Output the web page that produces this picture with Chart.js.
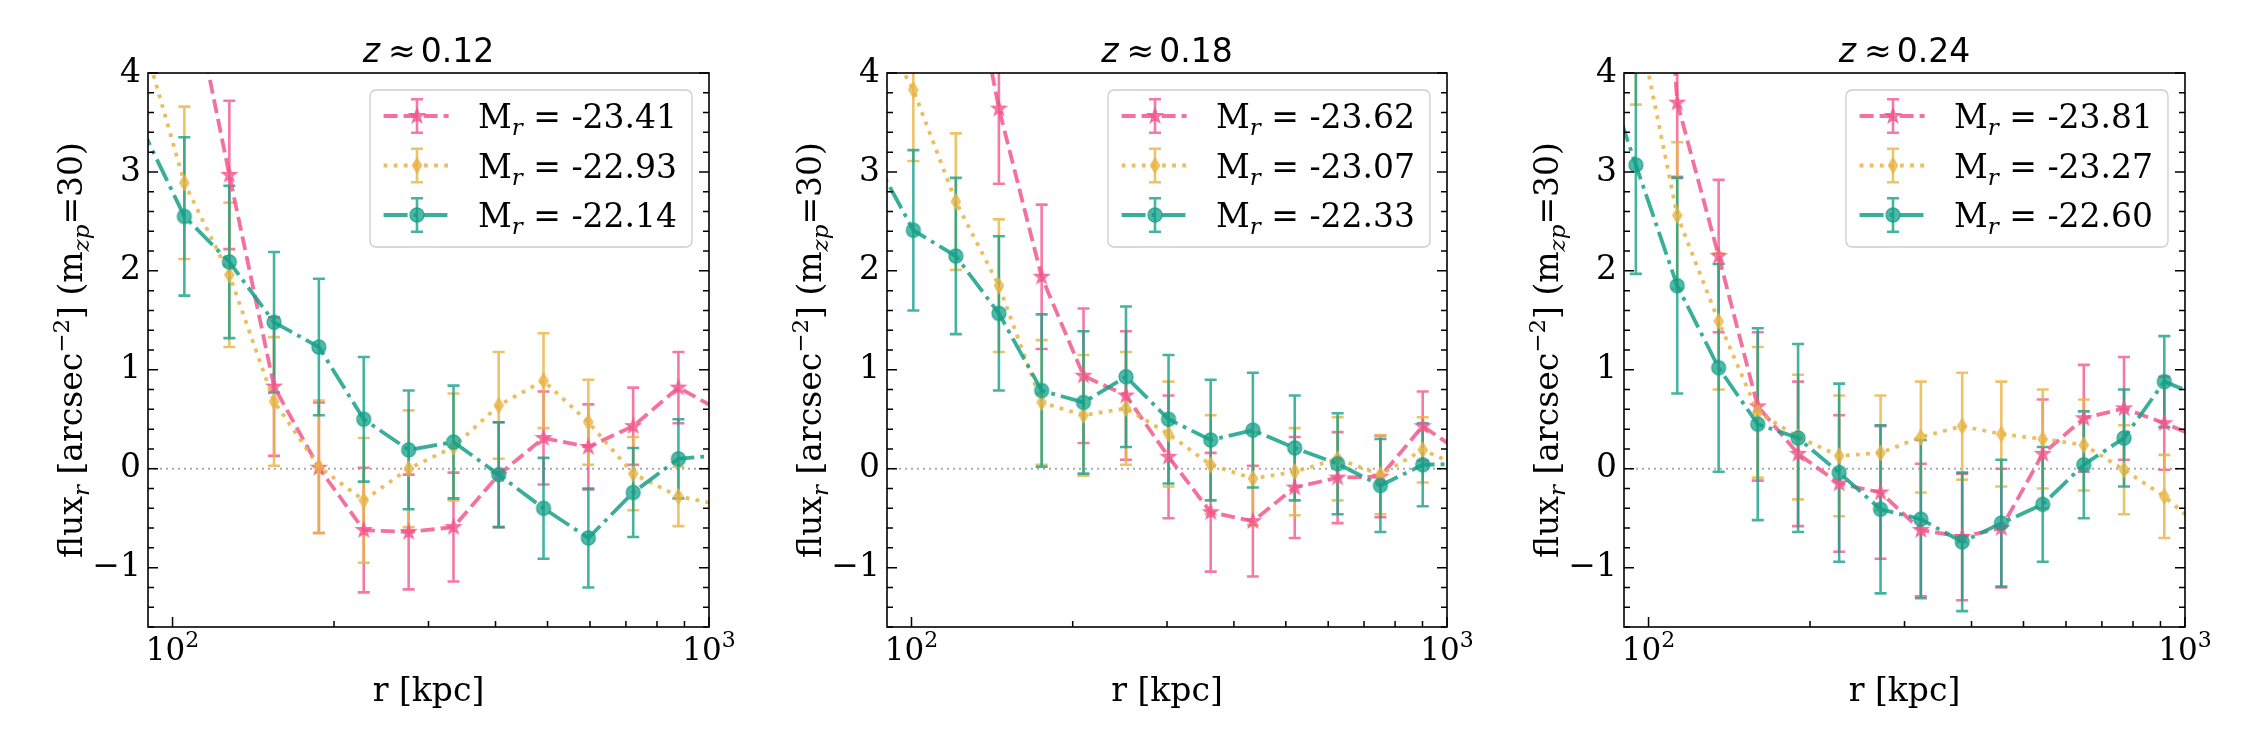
<!DOCTYPE html>
<html>
<head>
<meta charset="utf-8">
<title>flux profiles</title>
<script src="https://cdn.jsdelivr.net/npm/chart.js@4.4.1/dist/chart.umd.min.js"></script>
<style>
    html, body { margin: 0; padding: 0; background: #ffffff; }
    #wrap { position: relative; width: 2250px; height: 750px; overflow: hidden; }
    #wrap canvas { position: absolute; top: 0; }
</style>
</head>
<body>
<div id="wrap">
    <canvas id="panel1"></canvas>
    <canvas id="panel2"></canvas>
    <canvas id="panel3"></canvas>
</div>
<script>
// Stacked flux profiles in three redshift bins

// ---- values ----
const xTickValues = [100, 200, 300, 400, 500, 600, 700, 800, 900, 1000];
const yMajorTicks = [-1, 0, 1, 2, 3, 4];
const xLimits = [90, 1000];
const yLimits = [-1.6, 4];
const zLabels = ['0.12', '0.18', '0.24'];

// z ~ 0.12
const radius1 = [86.8, 105.2, 127.6, 154.6, 187.4, 227.2, 275.5, 334, 405.5, 491.5, 595.8, 722.3, 877, 1063];
const magr1 = ['-23.41', '-22.93', '-22.14'];
const fluxA1 = [7.5, 5.2, 2.97, 0.83, 0.01, -0.62, -0.64, -0.59, -0.06, 0.31, 0.22, 0.43, 0.82, 0.57];
const errA1 = [0.9, 0.8, 0.75, 0.7, 0.66, 0.63, 0.58, 0.55, 0.53, 0.47, 0.43, 0.39, 0.36, 0.33];
const fluxB1 = [4.47, 2.89, 1.96, 0.68, 0.02, -0.32, 0.0, 0.22, 0.64, 0.89, 0.47, -0.05, -0.28, -0.37];
const errB1 = [0.8, 0.77, 0.73, 0.65, 0.67, 0.63, 0.59, 0.54, 0.54, 0.48, 0.43, 0.37, 0.3, 0.3];
const fluxC1 = [3.49, 2.55, 2.09, 1.48, 1.23, 0.5, 0.19, 0.27, -0.06, -0.4, -0.7, -0.24, 0.1, 0.14];
const errC1 = [0.85, 0.8, 0.77, 0.71, 0.69, 0.63, 0.6, 0.57, 0.53, 0.51, 0.5, 0.45, 0.4, 0.38];

// z ~ 0.18
const radius2 = [84, 100.8, 121, 145.6, 175, 209.5, 251.5, 302, 362, 434, 519.6, 624.8, 751, 900.8, 1081];
const magr2 = ['-23.62', '-23.07', '-22.33'];
const fluxA2 = [12, 8.5, 5.9, 3.64, 1.94, 0.94, 0.74, 0.12, -0.44, -0.53, -0.19, -0.09, -0.08, 0.43, 0.14];
const errA2 = [1.0, 0.9, 0.8, 0.76, 0.73, 0.68, 0.65, 0.62, 0.6, 0.56, 0.51, 0.46, 0.41, 0.35, 0.33];
const fluxB2 = [4.6, 3.83, 2.7, 1.85, 0.67, 0.54, 0.61, 0.35, 0.04, -0.1, -0.03, 0.1, -0.06, 0.19, 0.0];
const errB2 = [0.75, 0.72, 0.69, 0.67, 0.63, 0.61, 0.57, 0.53, 0.5, 0.47, 0.44, 0.42, 0.4, 0.33, 0.3];
const fluxC2 = [3.2, 2.41, 2.15, 1.57, 0.79, 0.67, 0.93, 0.5, 0.29, 0.39, 0.21, 0.05, -0.17, 0.04, 0.05];
const errC2 = [0.85, 0.81, 0.79, 0.78, 0.77, 0.72, 0.71, 0.65, 0.61, 0.58, 0.53, 0.51, 0.47, 0.42, 0.4];

// z ~ 0.24
const radius3 = [79.5, 94.7, 113.1, 135.1, 159.8, 190, 226.6, 270.7, 321.8, 384.3, 454.6, 543, 647.7, 769.7, 915, 1087];
const magr3 = ['-23.81', '-23.27', '-22.60'];
const fluxA3 = [15, 10, 3.7, 2.15, 0.63, 0.15, -0.15, -0.24, -0.62, -0.69, -0.6, 0.15, 0.51, 0.61, 0.46, 0.29];
const errA3 = [1.0, 0.9, 0.75, 0.77, 0.75, 0.73, 0.69, 0.67, 0.67, 0.64, 0.6, 0.55, 0.54, 0.52, 0.47, 0.45];
const fluxB3 = [5.5, 4.63, 2.56, 1.49, 0.57, 0.32, 0.13, 0.16, 0.32, 0.43, 0.35, 0.3, 0.24, -0.01, -0.28, -0.63];
const errB3 = [1.0, 0.95, 0.74, 0.69, 0.66, 0.63, 0.61, 0.58, 0.56, 0.54, 0.53, 0.5, 0.46, 0.45, 0.42, 0.4];
const fluxC3 = [4.3, 3.07, 1.85, 1.02, 0.45, 0.31, -0.04, -0.41, -0.51, -0.74, -0.55, -0.36, 0.04, 0.31, 0.88, 0.72];
const errC3 = [1.1, 1.1, 1.09, 1.05, 0.97, 0.95, 0.9, 0.85, 0.8, 0.7, 0.64, 0.58, 0.54, 0.49, 0.46, 0.45];

// ---- layout and style ----
const PLOT_TOP = 73;
const PLOT_BOTTOM = 627;
const MARGIN_L = 148;
const MARGIN_R = 30;
const plotLefts = [148, 887, 1624];
const plotRights = [709, 1447, 2185];

const SERIF = '"DejaVu Serif", serif';
const SANS = '"DejaVu Sans", sans-serif';
const font = (size, family, style) => (style ? style + ' ' : '') + size + 'px ' + family;

const PINK = [242, 87, 140];
const GOLD = [232, 180, 69];
const TEAL = [22, 160, 138];
const rgba = (c, a) => `rgba(${c[0]},${c[1]},${c[2]},${a})`;

const LINE_W = 3.8;
const seriesStyles = [
    { color: PINK, dash: [14, 6], marker: 'star' },
    { color: GOLD, dash: [3.8, 6.3], marker: 'thin_diamond' },
    { color: TEAL, dash: [24, 6, 3.8, 6], marker: 'circle' }
];
const CAP = 6;

function makeMarker(kind, color) {
    const c = document.createElement('canvas');
    c.width = 24;
    c.height = 24;
    const g = c.getContext('2d');
    g.translate(12, 12);
    g.beginPath();
    if (kind === 'circle') {
        g.arc(0, 0, 7, 0, Math.PI * 2);
    } else if (kind === 'thin_diamond') {
        g.moveTo(0, -7.5); g.lineTo(4.6, 0); g.lineTo(0, 7.5); g.lineTo(-4.6, 0);
        g.closePath();
    } else {
        for (let k = 0; k < 10; k++) {
            const rr = k % 2 === 0 ? 7.8 : 3.1;
            const ang = -Math.PI / 2 + k * Math.PI / 5;
            const px = rr * Math.cos(ang), py = rr * Math.sin(ang);
            if (k === 0) g.moveTo(px, py); else g.lineTo(px, py);
        }
        g.closePath();
    }
    g.fillStyle = rgba(color, 0.75);
    g.fill();
    g.lineWidth = 1.3;
    g.strokeStyle = rgba(color, 0.8);
    g.stroke();
    return c;
}
const markers = seriesStyles.map(s => makeMarker(s.marker, s.color));

// text made of runs (for sub/superscripts)
function runsWidth(ctx, runs) {
    let w = 0;
    runs.forEach(r => {
        if (r.space) { w += r.space; return; }
        ctx.font = r.font;
        w += ctx.measureText(r.text).width;
    });
    return w;
}
function drawRuns(ctx, runs, x, y) {
    ctx.textAlign = 'left';
    ctx.textBaseline = 'alphabetic';
    runs.forEach(r => {
        if (r.space) { x += r.space; return; }
        ctx.font = r.font;
        ctx.fillText(r.text, x, y + (r.dy || 0));
        x += ctx.measureText(r.text).width;
    });
}

const yLabelRuns = [
    { text: 'flux', font: font(33, SERIF) },
    { text: 'r', font: font(23, SERIF, 'italic'), dy: 7 },
    { text: ' [arcsec', font: font(33, SERIF) },
    { text: '\u22122', font: font(23, SERIF), dy: -13 },
    { text: '] (m', font: font(33, SERIF) },
    { text: 'zp', font: font(23, SERIF, 'italic'), dy: 7 },
    { text: '=30)', font: font(33, SERIF) }
];

function makeDecor(p) {
    return {
        id: 'decor',
        beforeDatasetsDraw(chart) {
            const { ctx, chartArea: a, scales: { x, y } } = chart;
            ctx.save();
            ctx.beginPath();
            ctx.rect(a.left, a.top, a.right - a.left, a.bottom - a.top);
            ctx.clip();

            // zero reference line
            const y0 = y.getPixelForValue(0);
            ctx.strokeStyle = '#aaaaaa';
            ctx.lineWidth = 2;
            ctx.setLineDash([2, 4]);
            ctx.beginPath();
            ctx.moveTo(a.left, y0);
            ctx.lineTo(a.right, y0);
            ctx.stroke();
            ctx.setLineDash([]);

            // error bars
            chart.data.datasets.forEach((ds, i) => {
                ctx.strokeStyle = rgba(seriesStyles[i].color, 0.8);
                ctx.lineWidth = 2.6;
                ds.data.forEach((pt, j) => {
                    const px = x.getPixelForValue(pt.x);
                    const lo = y.getPixelForValue(pt.y - ds.errors[j]);
                    const hi = y.getPixelForValue(pt.y + ds.errors[j]);
                    ctx.beginPath();
                    ctx.moveTo(px, lo); ctx.lineTo(px, hi);
                    ctx.moveTo(px - CAP, lo); ctx.lineTo(px + CAP, lo);
                    ctx.moveTo(px - CAP, hi); ctx.lineTo(px + CAP, hi);
                    ctx.stroke();
                });
            });
            ctx.restore();
        },
        afterDatasetsDraw(chart) {
            const { ctx, chartArea: a, scales: { x, y } } = chart;
            ctx.save();
            ctx.fillStyle = '#000';
            ctx.strokeStyle = '#000';

            // frame
            ctx.lineWidth = 1.6;
            ctx.strokeRect(a.left, a.top, a.right - a.left, a.bottom - a.top);

            // inward ticks
            ctx.lineWidth = 1.5;
            ctx.beginPath();
            y.ticks.forEach(t => {
                const py = y.getPixelForValue(t.value);
                const len = yMajorTicks.some(v => Math.abs(v - t.value) < 1e-6) ? 10 : 6;
                ctx.moveTo(a.left, py); ctx.lineTo(a.left + len, py);
                ctx.moveTo(a.right, py); ctx.lineTo(a.right - len, py);
            });
            x.ticks.forEach(t => {
                const px = x.getPixelForValue(t.value);
                const len = (t.value === 100 || t.value === 1000) ? 10 : 6;
                ctx.moveTo(px, a.bottom); ctx.lineTo(px, a.bottom - len);
            });
            ctx.stroke();

            // y tick labels
            ctx.font = font(33, SERIF);
            ctx.textAlign = 'right';
            ctx.textBaseline = 'middle';
            yMajorTicks.forEach(v => {
                const label = v < 0 ? '\u2212' + Math.abs(v) : String(v);
                ctx.fillText(label, a.left - 7, y.getPixelForValue(v));
            });

            // x tick labels (powers of ten)
            [[100, '2'], [1000, '3']].forEach(([v, e]) => {
                const runs = [
                    { text: '10', font: font(31, SERIF) },
                    { text: e, font: font(22, SERIF), dy: -13 }
                ];
                const w = runsWidth(ctx, runs);
                drawRuns(ctx, runs, x.getPixelForValue(v) - w / 2, a.bottom + 33);
            });

            // axis labels
            ctx.font = font(33, SERIF);
            ctx.textAlign = 'center';
            ctx.textBaseline = 'alphabetic';
            ctx.fillText('r [kpc]', (a.left + a.right) / 2, 701);

            ctx.save();
            ctx.translate(a.left - 66, (a.top + a.bottom) / 2);
            ctx.rotate(-Math.PI / 2);
            drawRuns(ctx, yLabelRuns, -runsWidth(ctx, yLabelRuns) / 2, 0);
            ctx.restore();

            // title
            const titleRuns = [
                { text: 'z', font: font(33, SANS, 'italic') },
                { space: 8 },
                { text: '\u2248', font: font(33, SANS) },
                { space: 5 },
                { text: p.z, font: font(33, SANS) }
            ];
            const tw = runsWidth(ctx, titleRuns);
            drawRuns(ctx, titleRuns, (a.left + a.right) / 2 - tw / 2, 62);

            // legend
            const lgW = 322, lgH = 157;
            const lgLeft = a.right - 17 - lgW;
            const lgTop = a.top + 17;
            ctx.beginPath();
            ctx.roundRect(lgLeft, lgTop, lgW, lgH, 6);
            ctx.fillStyle = 'rgba(255,255,255,0.8)';
            ctx.fill();
            ctx.strokeStyle = '#cccccc';
            ctx.lineWidth = 1.3;
            ctx.stroke();

            seriesStyles.forEach((s, i) => {
                const cy = a.top + 43 + i * 49.5;
                const mx = lgLeft + 47;
                ctx.strokeStyle = rgba(s.color, 0.85);
                ctx.lineWidth = LINE_W;
                ctx.setLineDash(s.dash);
                ctx.beginPath();
                ctx.moveTo(lgLeft + 13.6, cy);
                ctx.lineTo(lgLeft + 78.6, cy);
                ctx.stroke();
                ctx.setLineDash([]);
                ctx.strokeStyle = rgba(s.color, 0.8);
                ctx.lineWidth = 2.6;
                ctx.beginPath();
                ctx.moveTo(mx, cy - 16.7); ctx.lineTo(mx, cy + 16.7);
                ctx.moveTo(mx - CAP, cy - 16.7); ctx.lineTo(mx + CAP, cy - 16.7);
                ctx.moveTo(mx - CAP, cy + 16.7); ctx.lineTo(mx + CAP, cy + 16.7);
                ctx.stroke();
                ctx.drawImage(markers[i], mx - 12, cy - 12);

                ctx.fillStyle = '#000';
                drawRuns(ctx, [
                    { text: 'M', font: font(33, SERIF) },
                    { text: 'r', font: font(23, SERIF, 'italic'), dy: 7 },
                    { text: ' = ' + p.mags[i], font: font(33, SERIF) }
                ], lgLeft + 108, cy + 12);
            });

            ctx.restore();
        }
    };
}

const panels = [
    { radius: radius1, z: zLabels[0], mags: magr1, flux: [fluxA1, fluxB1, fluxC1], errs: [errA1, errB1, errC1] },
    { radius: radius2, z: zLabels[1], mags: magr2, flux: [fluxA2, fluxB2, fluxC2], errs: [errA2, errB2, errC2] },
    { radius: radius3, z: zLabels[2], mags: magr3, flux: [fluxA3, fluxB3, fluxC3], errs: [errA3, errB3, errC3] }
];

panels.forEach((p, k) => {
    const canvas = document.getElementById('panel' + (k + 1));
    canvas.width = MARGIN_L + (plotRights[k] - plotLefts[k]) + MARGIN_R;
    canvas.height = 750;
    canvas.style.left = (plotLefts[k] - MARGIN_L) + 'px';

    const datasets = p.flux.map((vals, i) => ({
        label: 'M_r = ' + p.mags[i],
        data: p.radius.map((r, j) => ({ x: r, y: vals[j] })),
        errors: p.errs[i],
        borderColor: rgba(seriesStyles[i].color, 0.85),
        borderWidth: LINE_W,
        borderDash: seriesStyles[i].dash,
        borderCapStyle: 'butt',
        pointStyle: markers[i],
        pointRadius: 7,
        pointHoverRadius: 7,
        fill: false,
        tension: 0,
        clip: 0,
        order: 2 - i
    }));

    new Chart(canvas, {
        type: 'line',
        data: { datasets },
        options: {
            responsive: false,
            devicePixelRatio: 1,
            animation: false,
            events: [],
            layout: { padding: { left: 0, right: MARGIN_R, top: PLOT_TOP, bottom: 0 } },
            plugins: { legend: { display: false }, tooltip: { enabled: false } },
            scales: {
                x: {
                    type: 'logarithmic',
                    position: 'bottom',
                    min: xLimits[0],
                    max: xLimits[1],
                    afterBuildTicks: s => { s.ticks = xTickValues.map(v => ({ value: v })); },
                    afterFit: s => { s.height = 750 - PLOT_BOTTOM; },
                    ticks: { display: false },
                    grid: { display: false },
                    border: { display: false }
                },
                y: {
                    type: 'linear',
                    position: 'left',
                    min: yLimits[0],
                    max: yLimits[1],
                    afterBuildTicks: s => {
                        const ticks = [];
                        for (let n = Math.round(yLimits[0] * 5); n <= Math.round(yLimits[1] * 5); n++) {
                            ticks.push({ value: n / 5 });
                        }
                        s.ticks = ticks;
                    },
                    afterFit: s => { s.width = MARGIN_L; },
                    ticks: { display: false },
                    grid: { display: false },
                    border: { display: false }
                }
            }
        },
        plugins: [makeDecor(p)]
    });
});
</script>
</body>
</html>
